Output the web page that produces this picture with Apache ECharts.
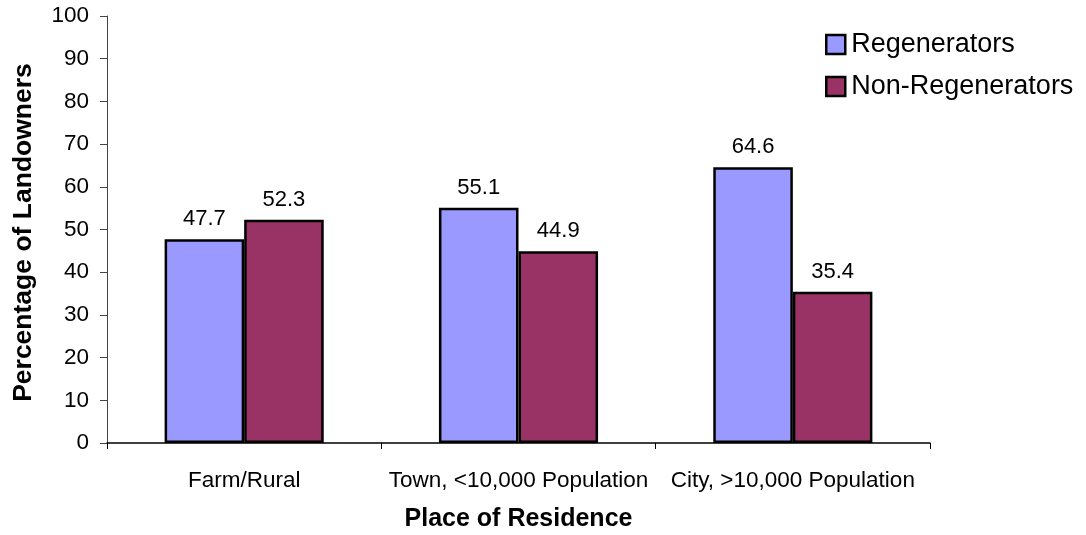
<!DOCTYPE html>
<html>
<head>
<meta charset="utf-8">
<script src="https://cdn.jsdelivr.net/npm/echarts@6/dist/echarts.min.js"></script>
<style>
html,body{margin:0;padding:0;background:#fff;}
#chart{width:1086px;height:535px;}
</style>
</head>
<body>
<div id="chart"></div>
<script>
const categories = ['Farm/Rural', 'Town, <10,000 Population', 'City, >10,000 Population'];
const regenerators = [47.7, 55.1, 64.6];
const nonRegenerators = [52.3, 44.9, 35.4];
const seriesNames = ['Regenerators', 'Non-Regenerators'];
const yTitle = 'Percentage of Landowners';
const xTitle = 'Place of Residence';

const FONT = "'Liberation Sans', Arial, sans-serif";
const chart = echarts.init(document.getElementById('chart'), null, {renderer: 'canvas'});
const labelStyle = {show: true, position: 'top', distance: 9, color: '#000', fontSize: 22, fontFamily: FONT, formatter: p => p.value.toFixed(1)};
chart.setOption({
  animation: false,
  backgroundColor: '#fff',
  grid: {left: 107, right: 156, top: 16, bottom: 92, containLabel: false, outerBoundsMode: 'none'},
  legend: {
    left: 820, top: 26, orient: 'vertical', padding: 5,
    itemWidth: 19, itemHeight: 19, itemGap: 15,
    icon: 'rect',
    itemStyle: {borderColor: '#000', borderWidth: 2.5},
    textStyle: {fontSize: 27, fontFamily: FONT, color: '#000', padding: [0, 0, 0, 1]},
    data: seriesNames
  },
  xAxis: {
    type: 'category', data: categories,
    name: xTitle, nameLocation: 'middle', nameGap: 64,
    nameTextStyle: {fontSize: 25, fontWeight: 'bold', fontFamily: FONT, color: '#000'},
    axisLine: {lineStyle: {color: '#000', width: 1.5}},
    axisTick: {show: true, inside: false, length: 6, lineStyle: {color: '#000'}},
    axisLabel: {fontSize: 22.5, fontFamily: FONT, color: '#000', margin: 26, interval: 0}
  },
  yAxis: {
    type: 'value', min: 0, max: 100, interval: 10,
    name: yTitle, nameLocation: 'middle', nameGap: 70, nameRotate: 90,
    nameTextStyle: {fontSize: 26.5, fontWeight: 'bold', fontFamily: FONT, color: '#000', padding: [0, 6, 0, 0]},
    axisLine: {show: true, lineStyle: {color: '#444', width: 1}},
    axisTick: {show: true, inside: false, length: 7, lineStyle: {color: '#444'}},
    axisLabel: {fontSize: 22.5, fontFamily: FONT, color: '#000', margin: 18},
    splitLine: {show: false}
  },
  series: [
    {name: seriesNames[0], type: 'bar', data: regenerators, barGap: '0%', barCategoryGap: '42%',
     itemStyle: {color: '#9999FF', borderColor: '#000', borderWidth: 2.5}, label: labelStyle},
    {name: seriesNames[1], type: 'bar', data: nonRegenerators, barGap: '0%', barCategoryGap: '42%',
     itemStyle: {color: '#993366', borderColor: '#000', borderWidth: 2.5}, label: labelStyle}
  ]
});
</script>
</body>
</html>
